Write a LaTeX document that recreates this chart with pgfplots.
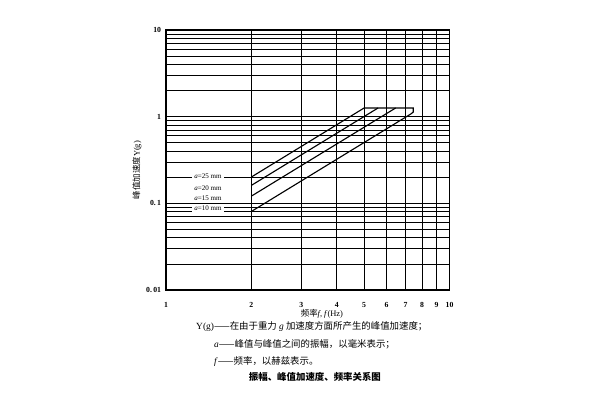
\documentclass[border=0pt]{standalone}
\usepackage{pgfplots}
\pgfplotsset{compat=1.18}
\usepackage{fontspec}
\setmainfont{Liberation Serif}
\newfontfamily\cjk{Noto Sans CJK SC}

\begin{document}
\begin{tikzpicture}
\path[use as bounding box] (0,0) rectangle (15cm,10cm);
\begin{axis}[
  at={(4.15cm,2.75cm)}, anchor=south west,
  scale only axis, width=7.0875cm, height=6.5cm,
  xmode=log, ymode=log,
  xmin=1, xmax=10, ymin=0.01, ymax=10,
  xtick={1,2,3,4,5,6,7,8,9,10},
  xticklabels={1,2,3,4,5,6,7,8,9,10},
  ytick={0.01,0.1,1,10},
  yticklabels={0.\,01,0.\,1,1,10},
  minor xtick={},
  minor ytick={0.02,0.03,0.04,0.05,0.06,0.07,0.08,0.09,
               0.2,0.3,0.4,0.5,0.6,0.7,0.8,0.9,
               2,3,4,5,6,7,8,9},
  major tick length=0pt, minor tick length=0pt,
  grid=both,
  major grid style={black, line width=0.55pt},
  minor grid style={black, line width=0.55pt},
  axis line style={black, line width=0.9pt},
  tick label style={font=\fontsize{5.5}{6}\selectfont\bfseries},
  xticklabel style={yshift=-0.18cm},
]
% peak acceleration Y = (2 pi f)^2 (a/2) / g, a in mm
\addplot[black, line width=0.8pt] coordinates {(2,0.201) (5,1.26)};
\addplot[black, line width=0.8pt] coordinates {(2,0.161) (5.6,1.26)};
\addplot[black, line width=0.8pt] coordinates {(2,0.121) (6.46,1.26)};
\addplot[black, line width=0.8pt] coordinates {(2,0.0805) (7.3,1.072) (7.45,1.13) (7.45,1.26) (5,1.26)};

\node[fill=white, inner sep=1.5pt, font=\fontsize{5}{6}\selectfont] at (axis cs:1.406,0.206) {\textit{a}=25 mm};
\node[fill=white, inner sep=1.5pt, font=\fontsize{5}{6}\selectfont] at (axis cs:1.406,0.150) {\textit{a}=20 mm};
\node[fill=white, inner sep=1.5pt, font=\fontsize{5}{6}\selectfont] at (axis cs:1.406,0.115) {\textit{a}=15 mm};
\node[fill=white, inner sep=1.5pt, font=\fontsize{5}{6}\selectfont] at (axis cs:1.406,0.0883) {\textit{a}=10 mm};
\end{axis}

\begin{scope}[x=0.025cm, y=0.025cm]
\node[font=\fontsize{6}{7}\selectfont] at (322,86) {{\cjk 频率}\textit{f}, \textit{f}(Hz)};
\node[rotate=90, font=\fontsize{6}{7}\selectfont] at (137,230) {{\cjk 峰值加速度}Y(g)};
\node[anchor=west, inner sep=0pt, font=\fontsize{6.7}{8}\selectfont] at (196,73) {Y(g){\cjk ——在由于重力 }\textit{g} {\cjk 加速度方面所产生的峰值加速度；}};
\node[anchor=west, inner sep=0pt, font=\fontsize{6.7}{8}\selectfont] at (214,55.5) {\textit{a}{\cjk ——峰值与峰值之间的振幅，以毫米表示；}};
\node[anchor=west, inner sep=0pt, font=\fontsize{6.7}{8}\selectfont] at (214,38) {\textit{f}{\cjk ——频率，以赫兹表示。}};
\node[font=\fontsize{6.7}{8}\selectfont\bfseries] at (315,23) {\cjk 振幅、峰值加速度、频率关系图};
\end{scope}
\end{tikzpicture}
\end{document}
